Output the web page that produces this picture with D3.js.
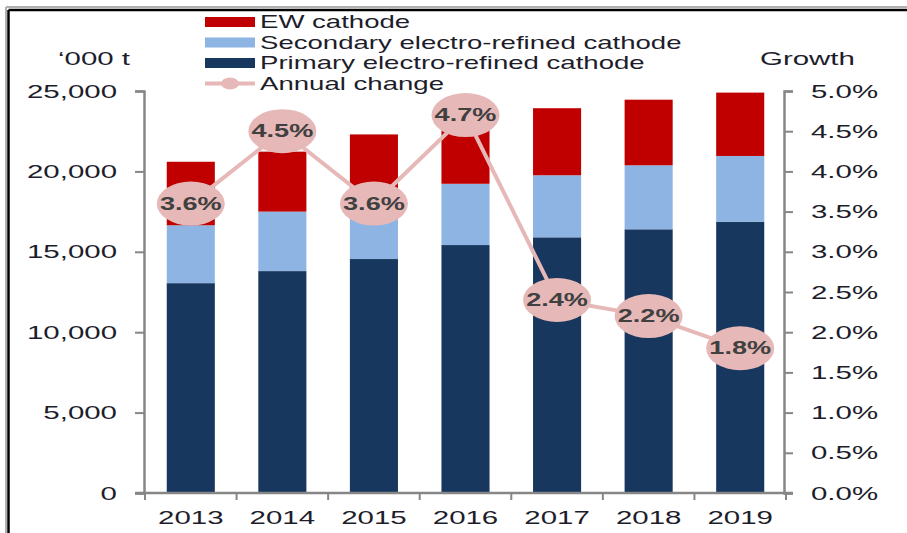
<!DOCTYPE html>
<html><head><meta charset="utf-8">
<script src="https://cdn.jsdelivr.net/npm/d3@7"></script>
<style>body{margin:0;background:#fff}svg{display:block}text{font-family:"Liberation Sans",Arial,sans-serif}</style>
</head><body>
<script>
const years = ['2013','2014','2015','2016','2017','2018','2019'];
const primary = [13050, 13800, 14550, 15420, 15900, 16400, 16870];
const secondary = [3600, 3700, 3650, 3810, 3860, 3980, 4090];
const ew = [3950, 3730, 4100, 3850, 4170, 4080, 3940];
const growth = [3.6, 4.5, 3.6, 4.7, 2.4, 2.2, 1.8];
const leftTicks = [0, 5000, 10000, 15000, 20000, 25000];
const rightTicks = [0, 0.5, 1, 1.5, 2, 2.5, 3, 3.5, 4, 4.5, 5];
const seriesNames = ['EW cathode', 'Secondary electro-refined cathode', 'Primary electro-refined cathode', 'Annual change'];

const W = 907, H = 533, SX = 1.55;
const colors = {ew:'#C00000', sec:'#8DB4E2', pri:'#17375E', line:'#E6B9B8'};
const txt = '#1d1d2b';

const svg = d3.select('body').append('svg').attr('width', W).attr('height', H);

// frame
svg.append('line').attr('x1',6).attr('y1',7).attr('x2',W).attr('y2',7).attr('stroke','#b0b0b0').attr('stroke-width',2);
svg.append('line').attr('x1',6).attr('y1',7).attr('x2',6).attr('y2',H).attr('stroke','#b0b0b0').attr('stroke-width',2);
svg.append('line').attr('x1',8.5).attr('y1',10).attr('x2',W).attr('y2',10).attr('stroke','#000').attr('stroke-width',2.5);
svg.append('line').attr('x1',8.5).attr('y1',10).attr('x2',8.5).attr('y2',H).attr('stroke','#000').attr('stroke-width',2.5);

const x = d3.scaleBand().domain(years).range([145, 786]).paddingInner(0.475).paddingOuter(0.2375);
const y = d3.scaleLinear().domain([0, 25000]).range([493, 91]);
const y2 = d3.scaleLinear().domain([0, 5]).range([493, 91]);

function stretch(sel, sx) {
  sel.each(function(){
    const t = d3.select(this);
    const tx = +t.attr('x') || 0;
    const ty = +t.attr('y') || 0;
    t.attr('x', 0).attr('y', 0).attr('transform', `translate(${tx},${ty}) scale(${sx},1)`);
  });
}

// stacked bars
const data = years.map((yr, i) => ({year: yr, pri: primary[i], sec: secondary[i], ew: ew[i]}));
const stack = d3.stack().keys(['pri','sec','ew'])(data);
svg.append('g').selectAll('g').data(stack).join('g')
  .attr('fill', d => colors[d.key])
  .selectAll('rect').data(d => d).join('rect')
  .attr('x', d => x(d.data.year))
  .attr('width', x.bandwidth())
  .attr('y', d => y(d[1]))
  .attr('height', d => y(d[0]) - y(d[1]));

// left axis
const gL = svg.append('g').attr('transform','translate(144,0)')
  .call(d3.axisLeft(y).tickValues(leftTicks).tickFormat(d3.format(',')).tickSize(9).tickPadding(18));
gL.select('.domain').attr('stroke','#868686').attr('stroke-width',2.5);
gL.selectAll('.tick line').attr('stroke','#868686').attr('stroke-width',2);
gL.selectAll('.tick text').attr('font-size',19).attr('fill',txt).attr('font-family','"Liberation Sans",Arial,sans-serif').call(stretch, SX);

// right axis
const gR = svg.append('g').attr('transform','translate(784,0)')
  .call(d3.axisRight(y2).tickValues(rightTicks).tickFormat(d => d.toFixed(1) + '%').tickSize(9).tickPadding(18));
gR.select('.domain').attr('stroke','#868686').attr('stroke-width',2.5);
gR.selectAll('.tick line').attr('stroke','#868686').attr('stroke-width',2);
gR.selectAll('.tick text').attr('font-size',19).attr('fill',txt).attr('font-family','"Liberation Sans",Arial,sans-serif').call(stretch, SX);

// bottom axis
const gB = svg.append('g').attr('transform','translate(0,493)')
  .call(d3.axisBottom(x).tickSize(0).tickPadding(17.5));
gB.select('.domain').remove();
svg.append('line').attr('x1',135).attr('x2',793).attr('y1',493).attr('y2',493).attr('stroke','#868686').attr('stroke-width',2.5);
const bounds = d3.range(years.length + 1).map(i => x.range()[0] + i * x.step());
svg.append('g').selectAll('line').data(bounds).join('line')
  .attr('x1', d => d).attr('x2', d => d).attr('y1', 493).attr('y2', 500)
  .attr('stroke','#868686').attr('stroke-width',2);
gB.selectAll('.tick text').attr('font-size',19).attr('fill',txt).attr('font-family','"Liberation Sans",Arial,sans-serif').call(stretch, SX);

// axis titles
svg.append('text').attr('x',130).attr('y',65).attr('text-anchor','end').attr('font-size',19).attr('fill',txt).text('\u2018000 t').call(stretch, SX);
svg.append('text').attr('x',760).attr('y',65).attr('text-anchor','start').attr('font-size',19).attr('fill',txt).text('Growth').call(stretch, SX);

// line
const line = d3.line().x((d, i) => x(years[i]) + x.bandwidth()/2).y(d => y2(d));
svg.append('path').datum(growth).attr('d', line).attr('fill','none').attr('stroke',colors.line).attr('stroke-width',4);
const pts = svg.append('g').selectAll('g').data(growth).join('g')
  .attr('transform', (d, i) => `translate(${x(years[i]) + x.bandwidth()/2},${y2(d)})`);
pts.append('ellipse').attr('rx',34).attr('ry',22).attr('fill',colors.line);
pts.append('text').attr('text-anchor','middle').attr('y',6).attr('font-size',17.5).attr('font-weight','bold')
  .attr('fill','#404040').text(d => d.toFixed(1) + '%').call(stretch, SX);

// legend
const leg = svg.append('g');
const legKeys = ['ew','sec','pri'];
const rowY = [22, 42.5, 63, 83.5];
legKeys.forEach((k, i) => {
  leg.append('rect').attr('x',205).attr('y',rowY[i]-5).attr('width',50).attr('height',10).attr('fill',colors[k]);
});
leg.append('line').attr('x1',205).attr('x2',255).attr('y1',rowY[3]).attr('y2',rowY[3]).attr('stroke',colors.line).attr('stroke-width',4);
leg.append('ellipse').attr('cx',230).attr('cy',rowY[3]).attr('rx',9).attr('ry',6).attr('fill',colors.line);
seriesNames.forEach((n, i) => {
  leg.append('text').attr('x',260).attr('y',rowY[i]+6).attr('font-size',17.8).attr('fill',txt).text(n).call(stretch, SX);
});
</script>
</body></html>
